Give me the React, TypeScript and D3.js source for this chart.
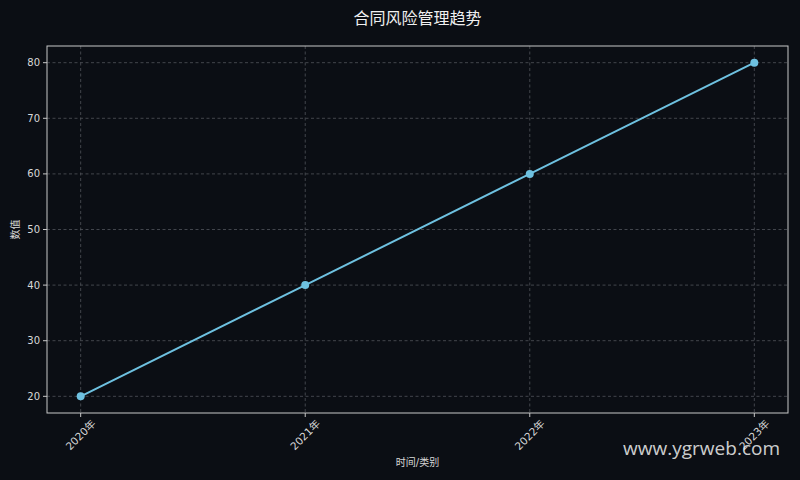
import React, { useRef, useEffect } from "react";
import * as d3 from "d3";

const categories = ["2020年", "2021年", "2022年", "2023年"];
const values = [20, 40, 60, 80];
const yTicks = [20, 30, 40, 50, 60, 70, 80];

const FONT = "'DejaVu Sans', 'Noto Sans CJK SC', sans-serif";

export default function App() {
  const svgRef = useRef<SVGSVGElement>(null);

  useEffect(() => {
    if (!svgRef.current) return;

    const width = 800;
    const height = 480;
    const margin = { top: 46, right: 12, bottom: 67, left: 47 };

    d3.select(svgRef.current).selectAll("*").remove();

    const svg = d3
      .select(svgRef.current)
      .attr("width", width)
      .attr("height", height);

    svg
      .append("rect")
      .attr("width", width)
      .attr("height", height)
      .attr("fill", "#0b0e14");

    const x = d3
      .scaleLinear()
      .domain([-0.15, categories.length - 1 + 0.15])
      .range([margin.left, width - margin.right]);

    const y = d3
      .scaleLinear()
      .domain([17, 83])
      .range([height - margin.bottom, margin.top]);

    const plotBottom = height - margin.bottom;

    // Grid
    const grid = svg.append("g");
    grid
      .selectAll(".vgrid")
      .data(categories)
      .join("line")
      .attr("x1", (_, i) => x(i))
      .attr("x2", (_, i) => x(i))
      .attr("y1", margin.top)
      .attr("y2", plotBottom)
      .attr("stroke", "#50545a")
      .attr("stroke-width", 0.8)
      .attr("stroke-dasharray", "3,2.5");
    grid
      .selectAll(".hgrid")
      .data(yTicks)
      .join("line")
      .attr("x1", margin.left)
      .attr("x2", width - margin.right)
      .attr("y1", (d) => y(d))
      .attr("y2", (d) => y(d))
      .attr("stroke", "#50545a")
      .attr("stroke-width", 0.8)
      .attr("stroke-dasharray", "3,2.5");

    // Frame
    svg
      .append("rect")
      .attr("x", margin.left)
      .attr("y", margin.top)
      .attr("width", width - margin.left - margin.right)
      .attr("height", plotBottom - margin.top)
      .attr("fill", "none")
      .attr("stroke", "#c8c8c8")
      .attr("stroke-width", 1);

    // Y ticks
    const yAxis = svg.append("g");
    yAxis
      .selectAll("line")
      .data(yTicks)
      .join("line")
      .attr("x1", margin.left - 4)
      .attr("x2", margin.left)
      .attr("y1", (d) => y(d))
      .attr("y2", (d) => y(d))
      .attr("stroke", "#c8c8c8");
    yAxis
      .selectAll("text")
      .data(yTicks)
      .join("text")
      .attr("x", margin.left - 7)
      .attr("y", (d) => y(d))
      .attr("dy", "0.35em")
      .attr("text-anchor", "end")
      .attr("font-size", 10)
      .attr("font-family", FONT)
      .attr("fill", "#d8d8d8")
      .text((d) => d);

    // X ticks
    const xAxis = svg.append("g");
    xAxis
      .selectAll("line")
      .data(categories)
      .join("line")
      .attr("x1", (_, i) => x(i))
      .attr("x2", (_, i) => x(i))
      .attr("y1", plotBottom)
      .attr("y2", plotBottom + 4)
      .attr("stroke", "#c8c8c8");
    xAxis
      .selectAll("text")
      .data(categories)
      .join("text")
      .attr(
        "transform",
        (_, i) => `translate(${x(i)},${plotBottom + 22}) rotate(-45)`
      )
      .attr("text-anchor", "middle")
      .attr("dy", "0.35em")
      .attr("font-size", 10.5)
      .attr("font-family", FONT)
      .attr("fill", "#d8d8d8")
      .text((d) => d);

    // Axis labels
    svg
      .append("text")
      .attr("x", (margin.left + width - margin.right) / 2)
      .attr("y", 462)
      .attr("dy", "0.35em")
      .attr("text-anchor", "middle")
      .attr("font-size", 10)
      .attr("font-family", FONT)
      .attr("fill", "#d8d8d8")
      .text("时间/类别");
    svg
      .append("text")
      .attr("transform", `translate(15,${(margin.top + plotBottom) / 2}) rotate(-90)`)
      .attr("text-anchor", "middle")
      .attr("dy", "0.35em")
      .attr("font-size", 10)
      .attr("font-family", FONT)
      .attr("fill", "#d8d8d8")
      .text("数值");

    // Title
    svg
      .append("text")
      .attr("x", (margin.left + width - margin.right) / 2)
      .attr("y", 18)
      .attr("dy", "0.35em")
      .attr("text-anchor", "middle")
      .attr("font-size", 16)
      .attr("font-family", FONT)
      .attr("fill", "#f0f0f0")
      .text("合同风险管理趋势");

    // Line
    const line = d3
      .line<number>()
      .x((_, i) => x(i))
      .y((d) => y(d));
    svg
      .append("path")
      .datum(values)
      .attr("d", line)
      .attr("fill", "none")
      .attr("stroke", "#6ec1e0")
      .attr("stroke-width", 2);
    svg
      .selectAll(".dot")
      .data(values)
      .join("circle")
      .attr("cx", (_, i) => x(i))
      .attr("cy", (d) => y(d))
      .attr("r", 4)
      .attr("fill", "#6ec1e0");

    // Watermark
    svg
      .append("text")
      .attr("x", 780)
      .attr("y", 448)
      .attr("dy", "0.35em")
      .attr("text-anchor", "end")
      .attr("font-size", 19)
      .attr("font-family", "'Open Sans', 'DejaVu Sans', sans-serif")
      .attr("fill", "#e6e6e6")
      .attr("fill-opacity", 0.9)
      .text("www.ygrweb.com");
  }, []);

  return (
    <div style={{ position: "fixed", left: 0, top: 0 }}>
      <svg ref={svgRef}></svg>
    </div>
  );
}
